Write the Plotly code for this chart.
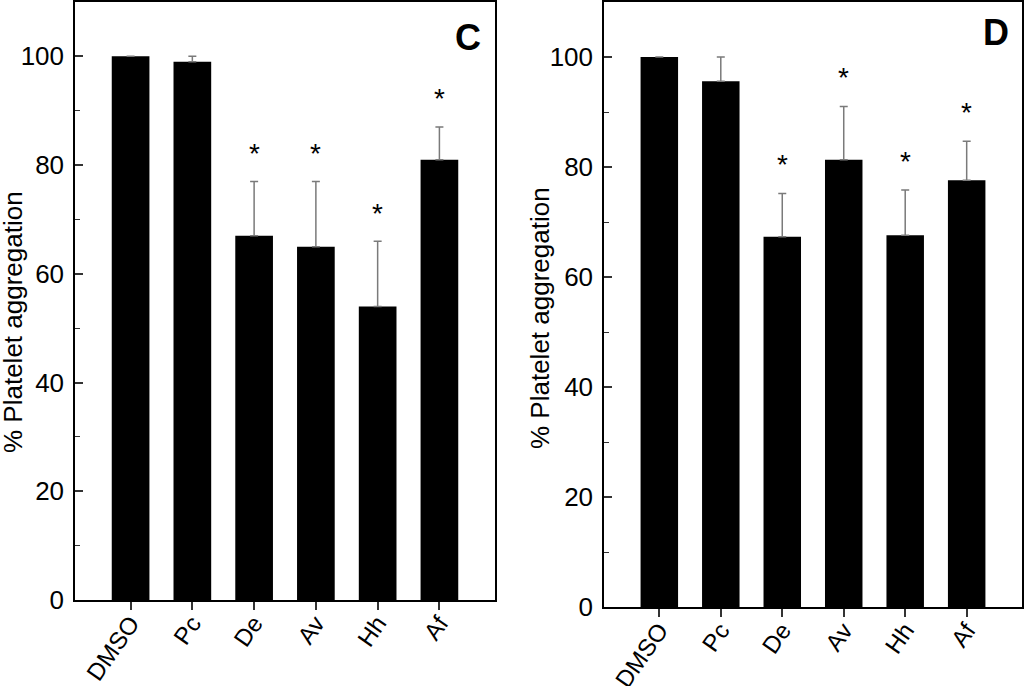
import plotly.graph_objects as go

categories = ["DMSO", "Pc", "De", "Av", "Hh", "Af"]

# Panel C
values_c = [100, 99, 67, 65, 54, 81]
errors_c = [0, 1, 10, 12, 12, 6]
signif_c = [False, False, True, True, True, True]

# Panel D
values_d = [100, 95.6, 67.3, 81.3, 67.6, 77.6]
errors_d = [0, 4.4, 7.9, 9.7, 8.2, 7.1]
signif_d = [False, False, True, True, True, True]

y_ticks = [0, 20, 40, 60, 80, 100]

FONT = "Liberation Sans, Arial, Helvetica, sans-serif"
W, H = 1024, 686

def px(x):
    return x / W

def py(y):
    return (H - y) / H

fig = go.Figure()

def add_panel(vals, errs, xa, ya):
    fig.add_trace(go.Bar(
        x=categories, y=vals, xaxis=xa, yaxis=ya,
        width=0.61,
        marker=dict(color="black", line=dict(width=0)),
        error_y=dict(type="data", array=errs, arrayminus=[0]*len(errs),
                     symmetric=False, color="#7a7a7a", thickness=1.5, width=4),
        showlegend=False,
    ))

add_panel(values_c, errors_c, "x", "y")
add_panel(values_d, errors_d, "x2", "y2")

axis_common_x = dict(
    type="category", range=[-0.9, 5.9], showline=True, linecolor="black",
    linewidth=1.5, mirror=True, ticks="outside", ticklen=8, tickwidth=1.5,
    tickcolor="#333", tickangle=-55, showgrid=False, zeroline=False,
    automargin=False, ticklabelstandoff=-10,
    tickfont=dict(family=FONT, size=24, color="black"),
)
axis_common_y = dict(
    range=[0, 110], tickvals=y_ticks, showline=True, linecolor="black",
    linewidth=1.5, mirror=True, ticks="inside", ticklen=8, tickwidth=1.5,
    tickcolor="#333", showgrid=False, zeroline=False, automargin=False,
    ticklabelstandoff=4,
    minor=dict(dtick=10, ticks="inside", ticklen=5, tickwidth=1.2, tickcolor="#333"),
    tickfont=dict(family=FONT, size=26, color="black"),
)

fig.update_layout(
    width=W, height=H,
    margin=dict(l=0, r=0, t=0, b=0),
    paper_bgcolor="white", plot_bgcolor="white",
    bargap=0.4,
    xaxis=dict(axis_common_x, domain=[px(75), px(495)], anchor="y"),
    yaxis=dict(axis_common_y, domain=[py(600), py(2)], anchor="x"),
    xaxis2=dict(axis_common_x, domain=[px(604), px(1022)], anchor="y2"),
    yaxis2=dict(axis_common_y, domain=[py(607), py(2)], anchor="x2"),
)

annotations = []
star_offset = 5
for vals, errs, sig, xr, yr in [(values_c, errors_c, signif_c, "x", "y"),
                                (values_d, errors_d, signif_d, "x2", "y2")]:
    for c, v, e, s in zip(categories, vals, errs, sig):
        if s:
            annotations.append(dict(
                x=c, y=v + e + star_offset, xref=xr, yref=yr, text="*",
                showarrow=False, xanchor="center", yanchor="middle", yshift=1,
                font=dict(family=FONT, size=28, color="black"),
            ))

# y-axis titles
annotations.append(dict(x=px(13), y=py(322), xref="paper", yref="paper",
                        xanchor="center", yanchor="middle",
                        text="% Platelet aggregation", textangle=-90, showarrow=False,
                        font=dict(family=FONT, size=26, color="black")))
annotations.append(dict(x=px(540), y=py(318), xref="paper", yref="paper",
                        xanchor="center", yanchor="middle",
                        text="% Platelet aggregation", textangle=-90, showarrow=False,
                        font=dict(family=FONT, size=26, color="black")))
# panel letters
annotations.append(dict(x=px(468), y=py(37), xref="paper", yref="paper",
                        xanchor="center", yanchor="middle",
                        text="<b>C</b>", showarrow=False,
                        font=dict(family=FONT, size=36, color="black")))
annotations.append(dict(x=px(996), y=py(33), xref="paper", yref="paper",
                        xanchor="center", yanchor="middle",
                        text="<b>D</b>", showarrow=False,
                        font=dict(family=FONT, size=36, color="black")))

fig.update_layout(annotations=annotations)

fig.write_html("out.html",
               config={"displayModeBar": False},
               post_script="document.body.style.margin='0';document.body.style.overflow='hidden';")
